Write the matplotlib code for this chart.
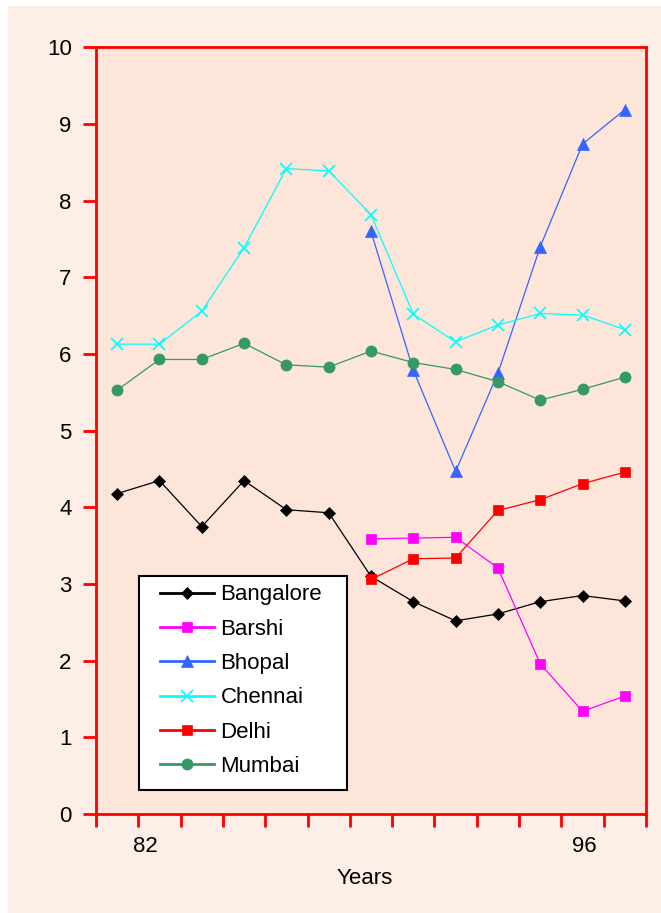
import numpy as np
import matplotlib.pyplot as plt
from matplotlib.patches import Rectangle

plt.rcParams['font.family'] = ['Liberation Sans', 'DejaVu Sans']

# survey points, one per period (13 periods), blank where a city was not sampled
n_periods = 13
year_labels = ['82', '96']
year_label_pos = [0.66, 11.05]

bangalore = [4.18, 4.35, 3.75, 4.35, 3.97, 3.93, 3.10, 2.77, 2.52, 2.61, 2.77, 2.85, 2.78]
barshi = [None] * 6 + [3.59, 3.60, 3.61, 3.21, 1.96, 1.34, 1.54]
bhopal = [None] * 6 + [7.60, 5.79, 4.47, 5.75, 7.40, 8.74, 9.19]
chennai = [6.13, 6.13, 6.56, 7.39, 8.42, 8.39, 7.82, 6.52, 6.16, 6.38, 6.53, 6.51, 6.32]
delhi = [None] * 6 + [3.06, 3.33, 3.34, 3.96, 4.10, 4.31, 4.46]
mumbai = [5.53, 5.93, 5.93, 6.14, 5.86, 5.83, 6.04, 5.89, 5.80, 5.64, 5.40, 5.54, 5.70]

series = [
    ('Bangalore', bangalore, 'black', 'D', 6),
    ('Barshi', barshi, '#FF00FF', 's', 7.5),
    ('Bhopal', bhopal, '#3366FF', '^', 8),
    ('Chennai', chennai, '#00FFFF', 'x', 8),
    ('Delhi', delhi, '#FF0000', 's', 7.5),
    ('Mumbai', mumbai, '#339966', 'o', 8),
]

fig = plt.figure(figsize=(6.61, 9.13), dpi=100)
fig.patch.set_facecolor('white')
# peach panel behind everything
fig.patches.append(Rectangle((8 / 661, 0), 1, (913 - 6) / 913, transform=fig.transFigure,
                             facecolor='#FDEEE6', edgecolor='none', zorder=-10))

ax = fig.add_axes([96 / 661, 99 / 913, 550 / 661, 766.5 / 913])
ax.set_facecolor('#FDE5DA')

x = np.arange(n_periods)
for name, vals, col, mk, ms in series:
    y = np.array([np.nan if v is None else v for v in vals], dtype=float)
    ax.plot(x, y, color=col, lw=0.9, marker=mk, markersize=ms,
            markeredgewidth=1.2 if mk == 'x' else 0.5, markeredgecolor=col,
            markerfacecolor=col, label=name)

ax.set_xlim(-0.5, n_periods - 0.5)
ax.set_ylim(0, 10)
ax.set_yticks(range(0, 11))
ax.set_xticks(np.arange(-0.5, n_periods, 1.0))
ax.set_xticklabels([])

for s in ax.spines.values():
    s.set_color('#FF0000')
    s.set_linewidth(2)
ax.tick_params(axis='both', colors='#FF0000', direction='out', length=9.5, width=2,
               labelcolor='black', labelsize=16)
ax.tick_params(axis='y', pad=8)

for lab, pos in zip(year_labels, year_label_pos):
    ax.text(pos, -0.043, lab, transform=ax.get_xaxis_transform(),
            ha='center', va='center', fontsize=16)

ax.set_xlabel('Years', fontsize=16)
ax.xaxis.set_label_coords(0.489, -0.071)

# legend box drawn separately so its padding can match the original
ax.add_patch(Rectangle((0.078, 0.031), 0.378, 0.279, transform=ax.transAxes,
                       facecolor='white', edgecolor='black', lw=1.5, zorder=4.5))
leg = ax.legend(loc='center', bbox_to_anchor=(0.2636, 0.174), borderaxespad=0,
                borderpad=0, fontsize=16, frameon=False, handlelength=2.45,
                handletextpad=0.27, labelspacing=0.6)
for h in leg.legend_handles:
    h.set_linewidth(2)

plt.savefig('out.png', dpi=100, facecolor=fig.get_facecolor())
